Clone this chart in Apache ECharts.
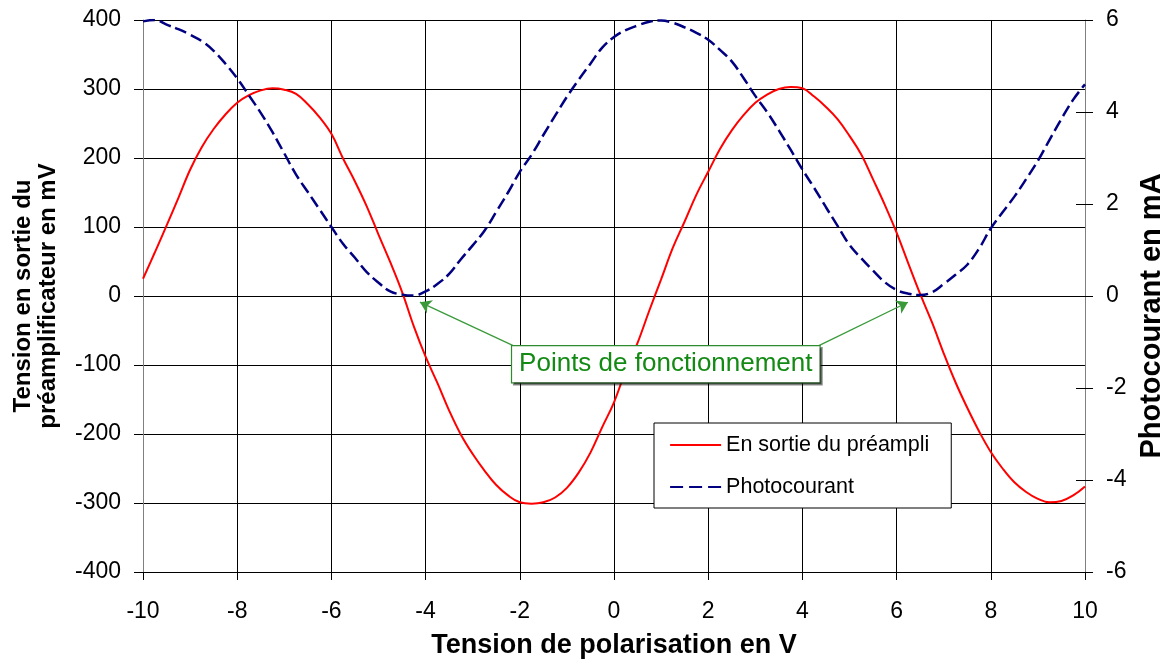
<!DOCTYPE html>
<html>
<head>
<meta charset="utf-8">
<script src="https://cdn.jsdelivr.net/npm/echarts@6/dist/echarts.min.js"></script>
<style>
html,body{margin:0;padding:0;background:#fff;}
#chart{width:1168px;height:664px;}
</style>
</head>
<body>
<div id="chart"></div>
<script>
// Tension de polarisation (V)
const tensionV = [
  -10,-9.75,-9.5,-9.25,-9,-8.75,-8.5,-8.25,-8,-7.75,-7.5,-7.25,-7,-6.75,-6.5,-6.25,-6,-5.75,-5.5,-5.25,
  -5,-4.75,-4.5,-4.25,-4,-3.75,-3.5,-3.25,-3,-2.75,-2.5,-2.25,-2,-1.75,-1.5,-1.25,-1,-0.75,-0.5,-0.25,
  0,0.25,0.5,0.75,1,1.25,1.5,1.75,2,2.25,2.5,2.75,3,3.25,3.5,3.75,4,4.25,4.5,4.75,
  5,5.25,5.5,5.75,6,6.25,6.5,6.75,7,7.25,7.5,7.75,8,8.25,8.5,8.75,9,9.25,9.5,9.75,10
];
// En sortie du préampli (mV)
const preampliMV = [
  25,63,102,142,183,216,242,263,280,291,298,301,299,293,278,259,235,199,166,130,
  89,49,6,-44,-88,-126,-166,-201,-229,-253,-274,-289,-299,-301,-299,-292,-278,-256,-227,-190,
  -154,-108,-68,-21,24,70,108,147,180,213,240,262,280,292,300,303,301,289,274,256,
  232,205,169,132,92,47,3,-38,-83,-125,-162,-196,-226,-250,-270,-284,-294,-299,-297,-289,-276
];
// Photocourant (mA)
const photocourantMA = [
  5.97,6.0,5.90,5.80,5.68,5.54,5.33,5.05,4.73,4.36,3.98,3.56,3.10,2.64,2.26,1.88,1.50,1.13,0.83,0.52,
  0.29,0.10,0.03,0.01,0.10,0.26,0.48,0.80,1.10,1.42,1.83,2.25,2.70,3.07,3.50,3.92,4.33,4.70,5.05,5.40,
  5.63,5.78,5.88,5.96,5.99,5.94,5.84,5.72,5.57,5.35,5.10,4.74,4.35,4.00,3.60,3.18,2.75,2.35,1.93,1.52,
  1.11,0.82,0.55,0.30,0.13,0.05,0.02,0.08,0.26,0.46,0.68,1.03,1.47,1.82,2.16,2.54,2.94,3.40,3.85,4.27,4.60
];
const seriesNames = ['En sortie du préampli', 'Photocourant'];
const annotationText = 'Points de fonctionnement';

const FONT = "'Liberation Sans', Arial, sans-serif";
const chart = echarts.init(document.getElementById('chart'), null, {renderer:'canvas'});

const redData = tensionV.map((x,i)=>[x, preampliMV[i]]);
const blueData = tensionV.map((x,i)=>[x, photocourantMA[i]]);

const option = {
  animation: false,
  backgroundColor: '#fff',
  grid: {left:143, right:83, top:20, bottom:92, containLabel:false, outerBoundsMode:'none', show:false},
  xAxis: {
    type:'value', min:-10, max:10, interval:2,
    name:'Tension de polarisation en V', nameLocation:'middle', nameGap:60,
    nameTextStyle:{fontFamily:FONT, fontSize:27, fontWeight:'bold', color:'#000'},
    axisLine:{show:true, onZero:false, lineStyle:{color:'#000', width:1}},
    axisTick:{show:true, inside:false, length:8, lineStyle:{color:'#000'}},
    axisLabel:{fontFamily:FONT, fontSize:23, color:'#000', margin:28},
    splitLine:{show:true, lineStyle:{color:'#000', width:1}}
  },
  yAxis: [
    {
      type:'value', min:-400, max:400, interval:100, position:'left',
      name:'Tension en sortie du\npréamplificateur en mV', nameLocation:'middle', nameGap:82,
      nameTextStyle:{fontFamily:FONT, fontSize:24, fontWeight:'bold', color:'#000', lineHeight:25},
      axisLine:{show:true, onZero:false, lineStyle:{color:'#808080', width:1}},
      axisTick:{show:true, inside:false, length:9, lineStyle:{color:'#000'}},
      axisLabel:{fontFamily:FONT, fontSize:23, color:'#000', margin:22},
      splitLine:{show:true, lineStyle:{color:'#000', width:1}}
    },
    {
      type:'value', min:-6, max:6, interval:2, position:'right',
      name:'Photocourant en mA', nameLocation:'middle', nameGap:52,
      nameTextStyle:{fontFamily:FONT, fontSize:29, fontWeight:'bold', color:'#000', padding:[0,40,0,0]},
      axisLine:{show:true, onZero:false, lineStyle:{color:'#808080', width:1}},
      axisTick:{show:true, inside:false, length:8, lineStyle:{color:'#000'}},
      axisLabel:{fontFamily:FONT, fontSize:23, color:'#000', margin:21},
      splitLine:{show:false}
    },
    {
      type:'value', min:-6, max:6, interval:2, position:'right',
      axisLine:{show:false, onZero:false},
      axisTick:{show:true, inside:true, length:9, lineStyle:{color:'#000'}},
      axisLabel:{show:false},
      splitLine:{show:false}
    }
  ],
  legend: {
    orient:'vertical', left:654, top:423,
    backgroundColor:'#fff', borderColor:'#000', borderWidth:1, borderRadius:0,
    padding:[11, 22, 10, 15], itemGap:20, itemWidth:51, itemHeight:14,
    itemStyle:{opacity:0, color:'rgba(0,0,0,0)', borderWidth:0},
    textStyle:{fontFamily:FONT, fontSize:21.5, color:'#000'},
    data:[
      {name:seriesNames[0], lineStyle:{width:2}},
      {name:seriesNames[1], lineStyle:{width:2.2, type:[13,6]}}
    ]
  },
  series: [
    {
      name:seriesNames[0], type:'line', yAxisIndex:0, data:redData,
      symbol:'none', smooth:0.4,
      lineStyle:{color:'#ff0000', width:2}, itemStyle:{color:'#ff0000'},
      z:3,
      markLine:{
        silent:true, animation:false,
        symbol:['none','arrow'], symbolSize:11,
        label:{show:false},
        lineStyle:{color:'#3a9a3a', width:1.3, type:'solid'},
        itemStyle:{color:'#1e7f1e'},
        data:[
          [{coord:[-2.14,-72]},{coord:[-4.12,-9]}],
          [{coord:[4.35,-72]},{coord:[6.24,-9]}]
        ]
      },
      markPoint:{
        silent:true, animation:false,
        symbol:'rect', symbolSize:0,
        data:[{coord:[1.1,-99], value:annotationText}],
        label:{
          show:true, position:'inside', formatter:annotationText,
          fontFamily:FONT, fontSize:26, color:'#138a13',
          backgroundColor:'#fff', borderColor:'#2e8b2e', borderWidth:1.2,
          padding:[5,7,5,7],
          shadowColor:'rgba(0,0,0,0.45)', shadowOffsetX:2, shadowOffsetY:2, shadowBlur:0
        }
      }
    },
    {
      name:seriesNames[1], type:'line', yAxisIndex:1, data:blueData,
      symbol:'none', smooth:0.4,
      lineStyle:{color:'#000080', width:2.5, type:[12,5]}, itemStyle:{color:'#000080'},
      z:4
    }
  ]
};
chart.setOption(option);
</script>
</body>
</html>
